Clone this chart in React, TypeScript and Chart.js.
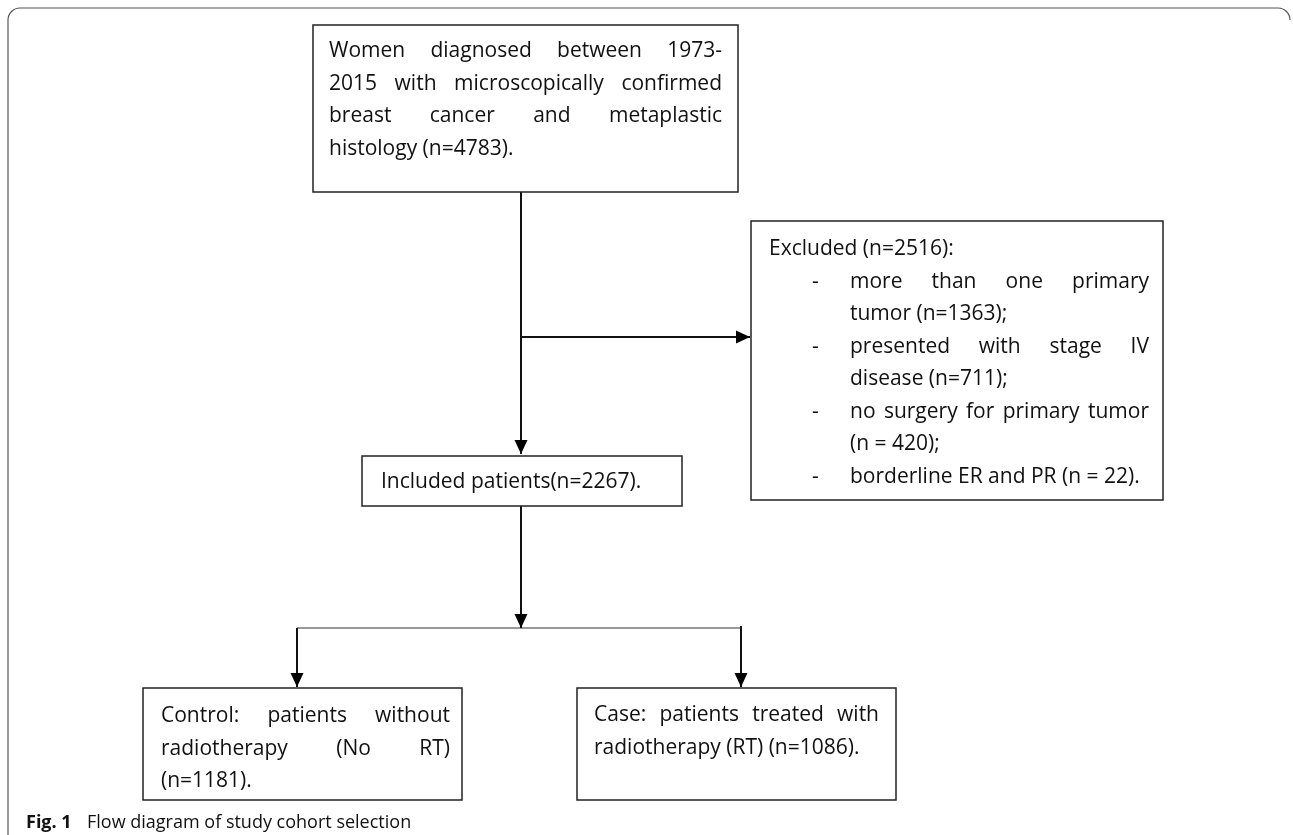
import React, { useEffect, useRef } from "react";
import { Chart, registerables } from "chart.js";

Chart.register(...registerables);

// ---- Text content (data) ----
const mainLines = [
  "Women diagnosed between 1973-",
  "2015 with microscopically confirmed",
  "breast cancer and metaplastic",
  "histology (n=4783).",
];
const excludedTitle = "Excluded (n=2516):";
const excludedItems = [
  ["more than one primary", "tumor (n=1363);"],
  ["presented with stage IV", "disease (n=711);"],
  ["no surgery for primary tumor", "(n = 420);"],
  ["borderline ER and PR (n = 22)."],
];
const includedLines = ["Included patients(n=2267)."];
const controlLines = ["Control: patients without", "radiotherapy (No RT)", "(n=1181)."];
const caseLines = ["Case: patients treated with", "radiotherapy (RT) (n=1086)."];
const captionLabel = "Fig. 1";
const captionText = "Flow diagram of study cohort selection";

// ---- Layout (diagram coordinates in scale units) ----
const W = 1293;
const H = 835;
const FONT = '"Open Sans", "Noto Sans", sans-serif';
const FS = 21;
const LINE = 32.5;

type Box = { x0: number; y0: number; x1: number; y1: number; tx0: number; tx1: number; base: number };
const mainBox: Box = { x0: 313, y0: 25, x1: 738, y1: 192, tx0: 329, tx1: 722, base: 57 };
const excludedBox: Box = { x0: 751, y0: 221, x1: 1163, y1: 500, tx0: 769, tx1: 1149, base: 255 };
const includedBox: Box = { x0: 362, y0: 456, x1: 682, y1: 506, tx0: 381, tx1: 662, base: 488 };
const controlBox: Box = { x0: 143, y0: 688, x1: 462, y1: 800, tx0: 161, tx1: 450, base: 722 };
const caseBox: Box = { x0: 577, y0: 688, x1: 896, y1: 800, tx0: 594, tx1: 879, base: 721 };
const bulletX = 812;
const itemX = 850;

// connectors: points in diagram units, arrowhead at end or not
const connectors: { pts: { x: number; y: number }[]; arrow: boolean; w: number; c: string }[] = [
  { pts: [{ x: 521, y: 192 }, { x: 521, y: 454 }], arrow: true, w: 2, c: "#111" },
  { pts: [{ x: 521, y: 337 }, { x: 750, y: 337 }], arrow: true, w: 2, c: "#111" },
  { pts: [{ x: 521, y: 506 }, { x: 521, y: 628 }], arrow: true, w: 2, c: "#111" },
  { pts: [{ x: 297, y: 628 }, { x: 741, y: 628 }], arrow: false, w: 1.2, c: "#333" },
  { pts: [{ x: 297, y: 628 }, { x: 297, y: 687 }], arrow: true, w: 2, c: "#111" },
  { pts: [{ x: 741, y: 626 }, { x: 741, y: 687 }], arrow: true, w: 2, c: "#111" },
];

function drawLine(ctx: CanvasRenderingContext2D, text: string, x0: number, x1: number, yb: number, justify: boolean) {
  if (!justify) {
    ctx.fillText(text, x0, yb);
    return;
  }
  const words = text.split(" ");
  const widths = words.map((w) => ctx.measureText(w).width);
  const total = widths.reduce((a, b) => a + b, 0);
  const gap = words.length > 1 ? (x1 - x0 - total) / (words.length - 1) : 0;
  let cx = x0;
  words.forEach((w, i) => {
    ctx.fillText(w, cx, yb);
    cx += widths[i] + gap;
  });
}

const flowPlugin = {
  id: "flowDiagram",
  beforeDatasetsDraw(chart: any) {
    const { ctx, scales } = chart;
    const px = (v: number) => scales.x.getPixelForValue(v);
    const py = (v: number) => scales.y.getPixelForValue(v);
    ctx.save();
    ctx.strokeStyle = "#555";
    ctx.lineWidth = 1.2;
    const r = 12;
    const fx = px(8), fy = py(8), fr = px(1290);
    ctx.beginPath();
    ctx.moveTo(fx, py(H));
    ctx.lineTo(fx, fy + r);
    ctx.arcTo(fx, fy, fx + r, fy, r);
    ctx.lineTo(fr - r, fy);
    ctx.arcTo(fr, fy, fr, fy + r, r);
    ctx.stroke();
    ctx.restore();
  },
  afterDatasetsDraw(chart: any) {
    const { ctx, scales } = chart;
    const px = (v: number) => scales.x.getPixelForValue(v);
    const py = (v: number) => scales.y.getPixelForValue(v);
    ctx.save();
    connectors.forEach((c) => {
      if (!c.arrow) return;
      const a = c.pts[c.pts.length - 2];
      const b = c.pts[c.pts.length - 1];
      const ax = px(a.x), ay = py(a.y), bx = px(b.x), by = py(b.y);
      const ang = Math.atan2(by - ay, bx - ax);
      const L = 14, hw = 6.5;
      ctx.fillStyle = "#000";
      ctx.beginPath();
      ctx.moveTo(bx, by);
      ctx.lineTo(bx - L * Math.cos(ang) + hw * Math.sin(ang), by - L * Math.sin(ang) - hw * Math.cos(ang));
      ctx.lineTo(bx - L * Math.cos(ang) - hw * Math.sin(ang), by - L * Math.sin(ang) + hw * Math.cos(ang));
      ctx.closePath();
      ctx.fill();
    });

    const drawBox = (b: Box) => {
      ctx.fillStyle = "#fff";
      ctx.fillRect(px(b.x0), py(b.y0), px(b.x1) - px(b.x0), py(b.y1) - py(b.y0));
      ctx.strokeStyle = "#222";
      ctx.lineWidth = 1.5;
      ctx.strokeRect(px(b.x0), py(b.y0), px(b.x1) - px(b.x0), py(b.y1) - py(b.y0));
    };
    [mainBox, excludedBox, includedBox, controlBox, caseBox].forEach(drawBox);

    ctx.fillStyle = "#111";
    ctx.font = `${FS}px ${FONT}`;
    ctx.textBaseline = "alphabetic";
    ctx.textAlign = "left";

    const para = (b: Box, lines: string[]) => {
      lines.forEach((t, i) => {
        drawLine(ctx, t, px(b.tx0), px(b.tx1), py(b.base + i * LINE), i < lines.length - 1);
      });
    };
    para(mainBox, mainLines);
    para(includedBox, includedLines);
    para(controlBox, controlLines);
    para(caseBox, caseLines);

    ctx.fillText(excludedTitle, px(excludedBox.tx0), py(excludedBox.base));
    let row = 1;
    excludedItems.forEach((item) => {
      ctx.fillText("-", px(bulletX), py(excludedBox.base + row * LINE));
      item.forEach((t, i) => {
        drawLine(ctx, t, px(itemX), px(excludedBox.tx1), py(excludedBox.base + row * LINE), i < item.length - 1);
        row++;
      });
    });

    ctx.font = `bold 18px ${FONT}`;
    ctx.fillStyle = "#111";
    ctx.fillText(captionLabel, px(26), py(828));
    ctx.font = `18px ${FONT}`;
    ctx.fillText(captionText, px(87), py(828));
    ctx.restore();
  },
};

export default function App() {
  const ref = useRef<HTMLCanvasElement | null>(null);
  useEffect(() => {
    if (!ref.current) return;
    const chart = new Chart(ref.current, {
      type: "scatter",
      data: {
        datasets: connectors.map((c) => ({
          data: c.pts,
          showLine: true,
          borderColor: c.c,
          borderWidth: c.w,
          pointRadius: 0,
          fill: false,
        })),
      },
      options: {
        animation: false,
        responsive: false,
        maintainAspectRatio: false,
        devicePixelRatio: 1,
        layout: { padding: 0 },
        events: [],
        scales: {
          x: { type: "linear", min: 0, max: W, display: false },
          y: { type: "linear", min: 0, max: H, reverse: true, display: false },
        },
        plugins: { legend: { display: false }, tooltip: { enabled: false } },
      },
      plugins: [flowPlugin],
    } as any);
    return () => chart.destroy();
  }, []);
  return (
    <div style={{ position: "fixed", left: 0, top: 0, width: W, height: H, background: "#fff" }}>
      <canvas ref={ref} width={W} height={H} style={{ display: "block" }} />
    </div>
  );
}
